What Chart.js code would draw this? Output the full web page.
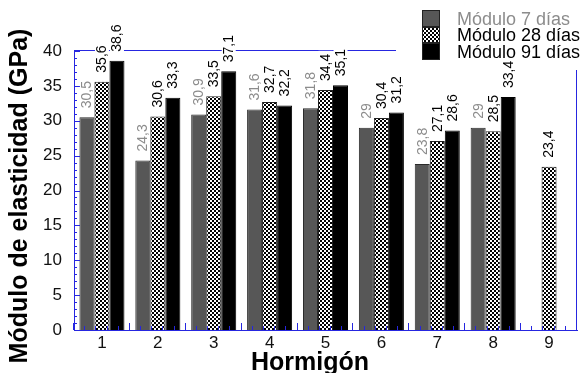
<!DOCTYPE html>
<html>
<head>
<meta charset="utf-8">
<style>
  html, body { margin: 0; padding: 0; background: #fff; }
  #grafico { display: block; }
</style>
<script src="https://cdn.jsdelivr.net/npm/chart.js@4.4.1/dist/chart.umd.min.js"></script>
</head>
<body>
<canvas id="grafico" width="582" height="373"></canvas>
<script>
// datos
var hormigones = ['1', '2', '3', '4', '5', '6', '7', '8', '9'];
var modulo7 = [30.5, 24.3, 30.9, 31.6, 31.8, 29, 23.8, 29, null];
var modulo28 = [35.6, 30.6, 33.5, 32.7, 34.4, 30.4, 27.1, 28.5, 23.4];
var modulo91 = [38.6, 33.3, 37.1, 32.2, 35.1, 31.2, 28.6, 33.4, null];
var yMin = 0, yMax = 40, yPaso = 5;

var azul = '#2626e0';
var fuente = '"Liberation Sans", Arial, sans-serif';

// trama cuadriculada para 28 dias
var pc = document.createElement('canvas');
pc.width = 4; pc.height = 4;
var pctx = pc.getContext('2d');
pctx.fillStyle = '#fff';
pctx.fillRect(0, 0, 4, 4);
pctx.fillStyle = '#000';
pctx.fillRect(0, 0, 2, 2);
pctx.fillRect(2, 2, 2, 2);
var ctx = document.getElementById('grafico').getContext('2d');
var trama = ctx.createPattern(pc, 'repeat');

var colorEtiqueta = ['#8c8c8c', '#000', '#000'];

var marcoYEtiquetas = {
  id: 'marcoYEtiquetas',
  afterDatasetsDraw: function (chart) {
    var c = chart.ctx;
    var a = chart.chartArea;
    var ys = chart.scales.y;
    var xs = chart.scales.x;
    c.save();
    c.strokeStyle = azul;
    c.lineWidth = 1;
    // linea superior y derecha (cortadas por la leyenda)
    c.beginPath();
    c.moveTo(a.left, a.top - 0.5);
    c.lineTo(396, a.top - 0.5);
    c.moveTo(a.right - 0.5, 70);
    c.lineTo(a.right - 0.5, a.bottom);
    c.stroke();
    // marcas hacia adentro eje y
    c.beginPath();
    for (var v = yMin; v <= yMax; v++) {
      var py = Math.round(ys.getPixelForValue(v)) + 0.5;
      var len = (v % yPaso === 0) ? 6 : 3;
      c.moveTo(a.left, py);
      c.lineTo(a.left + len, py);
    }
    // marcas eje x
    var cw = xs.getPixelForValue(1) - xs.getPixelForValue(0);
    var x0 = xs.getPixelForValue(0) - cw / 2;
    for (var i = 0; i <= hormigones.length; i++) {
      var b = Math.round(x0 + i * cw) - 0.5;
      c.moveTo(b, a.bottom);
      c.lineTo(b, a.bottom - 7);
      if (i < hormigones.length) {
        for (var k = 1; k < 5; k++) {
          var m = Math.round(x0 + i * cw + k * cw / 5) - 0.5;
          c.moveTo(m, a.bottom);
          c.lineTo(m, a.bottom - 4);
        }
      }
    }
    c.stroke();

    // etiquetas de valores
    c.font = '14px ' + fuente;
    c.textAlign = 'left';
    c.textBaseline = 'middle';
    chart.data.datasets.forEach(function (ds, di) {
      var meta = chart.getDatasetMeta(di);
      meta.data.forEach(function (bar, j) {
        var val = ds.data[j];
        if (val === null || val === undefined) return;
        var txt = String(val).replace('.', ',');
        var w = c.measureText(txt).width;
        c.save();
        c.translate(bar.x, bar.y - 9);
        c.rotate(-Math.PI / 2);
        c.fillStyle = '#fff';
        c.fillRect(-3, -7, w + 6, 14);
        c.fillStyle = colorEtiqueta[di];
        c.fillText(txt, 0, 0.5);
        c.restore();
      });
    });
    c.restore();
  },
  afterDraw: function (chart) {
    var c = chart.ctx;
    c.save();
    // titulos
    c.fillStyle = '#000';
    c.font = 'bold 25px ' + fuente;
    c.textAlign = 'center';
    c.textBaseline = 'alphabetic';
    c.fillText('Hormigón', 310, 370);
    c.save();
    c.translate(27, 196);
    c.rotate(-Math.PI / 2);
    c.fillText('Módulo de elasticidad (GPa)', 0, 0);
    c.restore();
    // leyenda
    var cajas = [[10, 17], [27, 16], [43, 17]];
    c.font = '18px ' + fuente;
    c.textAlign = 'left';
    c.textBaseline = 'middle';
    chart.data.datasets.forEach(function (ds, di) {
      var y = cajas[di][0], h = cajas[di][1];
      c.fillStyle = ds.backgroundColor;
      c.fillRect(422, y, 18, h);
      c.strokeStyle = '#222';
      c.lineWidth = 1;
      c.strokeRect(422.5, y + 0.5, 17, h - 1);
      c.fillStyle = colorEtiqueta[di];
      c.fillText(ds.label, 457, y + h / 2 + 1.5);
    });
    c.restore();
  }
};

var grafico = new Chart(ctx, {
  type: 'bar',
  data: {
    labels: hormigones,
    datasets: [
      { label: 'Módulo 7 días', data: modulo7, backgroundColor: '#575757', borderColor: '#2a2a2a', borderWidth: 1 },
      { label: 'Módulo 28 días', data: modulo28, backgroundColor: trama, borderColor: '#222', borderWidth: 1 },
      { label: 'Módulo 91 días', data: modulo91, backgroundColor: '#000', borderColor: '#000', borderWidth: 1 }
    ]
  },
  options: {
    responsive: false,
    animation: false,
    devicePixelRatio: 1,
    categoryPercentage: 0.806,
    barPercentage: 1,
    layout: { padding: { top: 51, right: 5, left: 0, bottom: 0 } },
    plugins: {
      legend: { display: false },
      tooltip: { enabled: false }
    },
    scales: {
      x: {
        grid: { display: false, drawTicks: false },
        border: { display: true, color: azul, width: 1 },
        ticks: { color: '#111', font: { family: fuente, size: 17 }, padding: 3 },
        afterFit: function (s) { s.height = 43; }
      },
      y: {
        min: yMin,
        max: yMax,
        grid: { display: false, drawTicks: false },
        border: { display: true, color: azul, width: 1 },
        ticks: { stepSize: yPaso, color: '#111', font: { family: fuente, size: 17 }, padding: 12 },
        afterFit: function (s) { s.width = 74; }
      }
    }
  },
  plugins: [marcoYEtiquetas]
});
</script>
</body>
</html>
